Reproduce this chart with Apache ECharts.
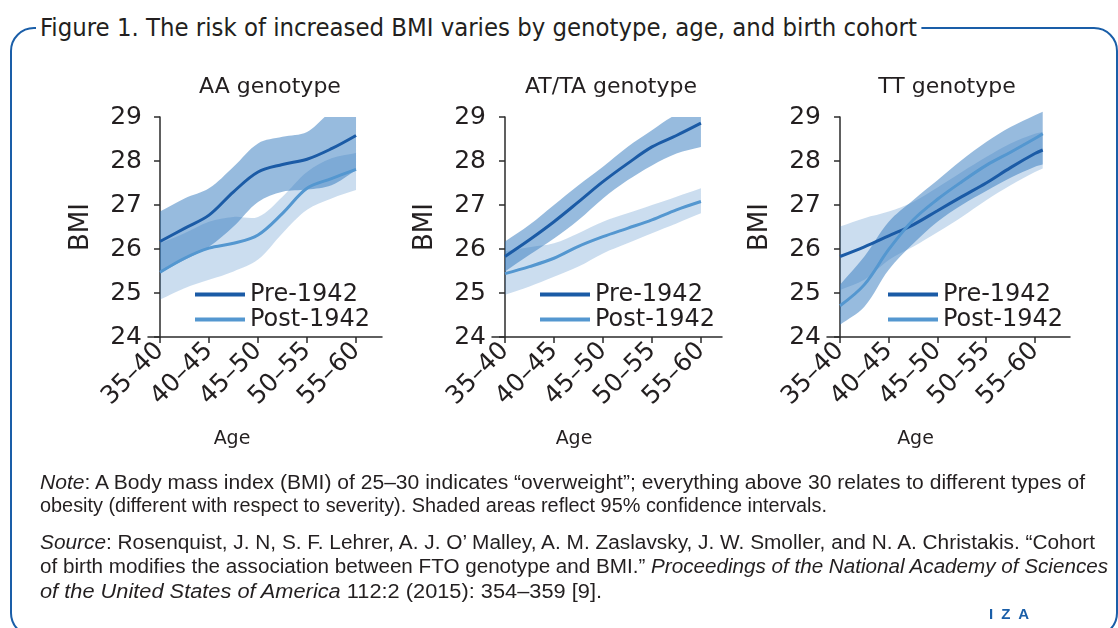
<!DOCTYPE html>
<html>
<head>
<meta charset="utf-8">
<script src="https://cdn.jsdelivr.net/npm/echarts@6/dist/echarts.min.js"></script>
<style>
  html, body { margin: 0; padding: 0; background: #fff; }
  #wrap { position: relative; width: 1118px; height: 628px; overflow: hidden; background: #fff; }
  #frame { position: absolute; left: 10px; top: 27px; width: 1108px; height: 610px; box-sizing: border-box;
           border: 2.5px solid #1a5ea8; border-radius: 24px; }
  #chart { position: absolute; left: 0; top: 0; width: 1118px; height: 628px; }
  .txt { position: absolute; white-space: nowrap; color: #231f20; transform-origin: 0 50%; }
  #title { left: 36px; top: 13px; height: 30px; line-height: 30px; padding: 0 4px; background: #fff;
           font-family: 'Liberation Sans Narrow', 'DejaVu Sans Condensed', 'Liberation Sans', sans-serif; font-size: 25px; }
  .note { left: 40px; font-family: 'Liberation Sans', Arial, sans-serif; font-size: 20px; height: 24px; line-height: 24px; }
  #iza { position: absolute; left: 989px; top: 605px; font-family: 'Liberation Sans', Arial, sans-serif; font-weight: bold;
         font-size: 15px; color: #1a5ea8; letter-spacing: 8px; }
</style>
</head>
<body>
<div id="wrap">
  <div id="frame"></div>
  <div id="chart"></div>
  <div id="title" class="txt" data-w="885">Figure 1. The risk of increased BMI varies by genotype, age, and birth cohort</div>
  <div class="txt note" style="top:470px" data-w="1045"><i>Note</i>: A Body mass index (BMI) of 25–30 indicates “overweight”; everything above 30 relates to different types of</div>
  <div class="txt note" style="top:493px" data-w="787">obesity (different with respect to severity). Shaded areas reflect 95% confidence intervals.</div>
  <div class="txt note" style="top:530px" data-w="1055"><i>Source</i>: Rosenquist, J. N, S. F. Lehrer, A. J. O’ Malley, A. M. Zaslavsky, J. W. Smoller, and N. A. Christakis. “Cohort</div>
  <div class="txt note" style="top:554px" data-w="1068">of birth modifies the association between FTO genotype and BMI.” <i>Proceedings of the National Academy of Sciences</i></div>
  <div class="txt note" style="top:579px" data-w="562"><i>of the United States of America</i> 112:2 (2015): 354–359 [9].</div>
  <div id="iza">IZA</div>
</div>
<script>
// ---------- data ----------
const ageLabels = ['35–40', '40–45', '45–50', '50–55', '55–60'];
const panelTitles = ['AA genotype', 'AT/TA genotype', 'TT genotype'];
const cohortNames = ['Pre-1942', 'Post-1942'];
const xPos   = [0, 0.5, 1, 1.5, 2, 2.5, 3, 3.5, 4];
const xPosTT = [0, 0.5, 1, 1.5, 2, 2.5, 3, 3.5, 4, 4.16];

// AA genotype
const aaPre    = [26.17, 26.47, 26.77, 27.30, 27.75, 27.92, 28.04, 28.28, 28.58];
const aaPreLo  = [25.45, 25.75, 26.05, 26.51, 27.07, 27.30, 27.35, 27.45, 27.79];
const aaPreHi  = [26.85, 27.15, 27.38, 27.87, 28.40, 28.55, 28.66, 29.10, 29.15];
const aaPost   = [25.47, 25.79, 26.02, 26.13, 26.32, 26.81, 27.38, 27.60, 27.81];
const aaPostLo = [24.85, 25.11, 25.30, 25.49, 25.76, 26.36, 26.89, 27.15, 27.34];
const aaPostHi = [26.13, 26.36, 26.62, 26.73, 26.73, 27.19, 27.75, 28.06, 28.18];

// AT/TA genotype
const atPre    = [25.83, 26.21, 26.62, 27.07, 27.53, 27.94, 28.32, 28.58, 28.86];
const atPreLo  = [25.49, 25.87, 26.24, 26.66, 27.15, 27.56, 27.90, 28.17, 28.32];
const atPreHi  = [26.17, 26.55, 27.00, 27.45, 27.87, 28.32, 28.70, 29.05, 29.15];
const atPost   = [25.44, 25.60, 25.79, 26.06, 26.28, 26.47, 26.66, 26.89, 27.08];
const atPostLo = [24.96, 25.15, 25.37, 25.60, 25.90, 26.13, 26.36, 26.58, 26.81];
const atPostHi = [25.95, 26.04, 26.13, 26.36, 26.62, 26.81, 27.00, 27.19, 27.38];

// TT genotype
const ttPre    = [25.83, 26.05, 26.30, 26.55, 26.87, 27.19, 27.50, 27.85, 28.17, 28.25];
const ttPreLo  = [25.07, 25.30, 25.75, 26.05, 26.38, 26.73, 27.11, 27.45, 27.75, 27.83];
const ttPreHi  = [26.51, 26.70, 26.85, 27.07, 27.40, 27.75, 28.09, 28.40, 28.62, 28.66];
const ttPost   = [24.71, 25.19, 25.99, 26.66, 27.13, 27.53, 27.90, 28.20, 28.51, 28.62];
const ttPostLo = [24.28, 24.69, 25.53, 26.12, 26.62, 27.00, 27.32, 27.62, 27.87, 27.92];
const ttPostHi = [25.19, 25.83, 26.62, 27.11, 27.56, 28.02, 28.43, 28.77, 29.04, 29.12];

// ---------- styling ----------
const FONT = 'DejaVu Sans';
const TXT = '#231f20';
const AXIS = '#2b2b2b';
const PRE_COLOR = '#1b5ba6';
const POST_COLOR = '#5497d0';
const BAND_MED = 'rgba(47,120,190,0.5)';
const BAND_LIGHT = 'rgba(47,120,190,0.25)';
const SMOOTH = 0.35;

const panels = [
  { x: xPos, pre: aaPre, preLo: aaPreLo, preHi: aaPreHi, post: aaPost, postLo: aaPostLo, postHi: aaPostHi,
    grid: { left: 148, top: 117, width: 234, height: 220 }, xmin: -0.245, xmax: 4.53,
    preBand: BAND_MED, postBand: BAND_LIGHT, legendLeft: 190, titleX: 265, clip: true },
  { x: xPos, pre: atPre, preLo: atPreLo, preHi: atPreHi, post: atPost, postLo: atPostLo, postHi: atPostHi,
    grid: { left: 492, top: 117, width: 230, height: 220 }, xmin: -0.265, xmax: 4.43,
    preBand: BAND_MED, postBand: BAND_LIGHT, legendLeft: 535, titleX: 606, clip: true },
  { x: xPosTT, pre: ttPre, preLo: ttPreLo, preHi: ttPreHi, post: ttPost, postLo: ttPostLo, postHi: ttPostHi,
    grid: { left: 827, top: 117, width: 243, height: 220 }, xmin: -0.267, xmax: 4.72,
    preBand: BAND_LIGHT, postBand: BAND_MED, legendLeft: 883, titleX: 942, clip: false }
];

const pairs = (xs, ys) => xs.map((x, i) => [x, ys[i]]);

// smooth path segment through pixel points (same style of smoothing as ECharts lines)
function smoothSegs(pts, move) {
  let d = '';
  const n = pts.length;
  const cps = pts.map((p, i) => {
    const prev = pts[Math.max(i - 1, 0)], next = pts[Math.min(i + 1, n - 1)];
    const vx = next[0] - prev[0], vy = next[1] - prev[1];
    const l0 = Math.hypot(p[0] - prev[0], p[1] - prev[1]);
    const l1 = Math.hypot(next[0] - p[0], next[1] - p[1]);
    const sum = l0 + l1 || 1;
    const r = l1 / sum;
    return {
      in: [p[0] - vx * SMOOTH * (1 - r), p[1] - vy * SMOOTH * (1 - r)],
      out: [p[0] + vx * SMOOTH * r, p[1] + vy * SMOOTH * r]
    };
  });
  d += (move ? 'M' : 'L') + pts[0][0] + ' ' + pts[0][1];
  for (let i = 0; i < n - 1; i++) {
    const a = cps[i].out, b = cps[i + 1].in, p = pts[i + 1];
    d += 'C' + a[0] + ' ' + a[1] + ' ' + b[0] + ' ' + b[1] + ' ' + p[0] + ' ' + p[1];
  }
  return d;
}

function bandSeries(k, xs, lo, hi, color, clip) {
  return {
    type: 'custom', xAxisIndex: k, yAxisIndex: k, silent: true, clip: clip, z: 1,
    data: [[xs[0], lo[0]]],
    renderItem: function (params, api) {
      const loPts = xs.map((x, i) => api.coord([x, lo[i]]));
      const hiPts = xs.map((x, i) => api.coord([x, hi[i]])).reverse();
      const d = smoothSegs(loPts, true) + smoothSegs(hiPts, false) + 'Z';
      return { type: 'path', shape: { pathData: d, layout: 'cover' }, style: { fill: color, stroke: null } };
    }
  };
}

const grids = [], xAxes = [], yAxes = [], series = [], titles = [], legends = [];
panels.forEach((p, k) => {
  grids.push(p.grid);
  titles.push({ text: panelTitles[k], left: p.titleX, top: 71, textAlign: 'center',
    textStyle: { fontFamily: FONT, fontSize: 22, fontWeight: 'normal', color: TXT } });
  xAxes.push({
    type: 'value', gridIndex: k, min: p.xmin, max: p.xmax,
    axisLine: { show: true, onZero: false, lineStyle: { color: AXIS, width: 1.5 } },
    axisTick: { show: true, customValues: [0, 1, 2, 3, 4], length: 6, lineStyle: { color: AXIS, width: 1.5 } },
    axisLabel: { customValues: [0, 1, 2, 3, 4], rotate: 45, margin: 10, fontFamily: FONT, fontSize: 25, color: TXT,
      formatter: v => ageLabels[Math.round(v)] },
    splitLine: { show: false },
    name: 'Age', nameLocation: 'middle', nameGap: 93,
    nameTextStyle: { fontFamily: FONT, fontSize: 19, color: TXT, padding: [0, 66, 0, 0] }
  });
  yAxes.push({
    type: 'value', gridIndex: k, min: 24, max: 29, interval: 1,
    axisLine: { show: true, lineStyle: { color: AXIS, width: 1.5 } },
    axisTick: { show: true, length: 6, lineStyle: { color: AXIS, width: 1.5 } },
    axisLabel: { margin: 6, fontFamily: FONT, fontSize: 25, color: TXT },
    splitLine: { show: false },
    name: 'BMI', nameLocation: 'middle', nameGap: 54, nameRotate: 90,
    nameTextStyle: { fontFamily: FONT, fontSize: 26, color: TXT }
  });
  series.push(bandSeries(k, p.x, p.preLo, p.preHi, p.preBand, p.clip));
  series.push(bandSeries(k, p.x, p.postLo, p.postHi, p.postBand, p.clip));
  const common = { type: 'line', xAxisIndex: k, yAxisIndex: k, symbol: 'none', smooth: SMOOTH, silent: true, z: 3 };
  series.push(Object.assign({}, common, { name: cohortNames[0], data: pairs(p.x, p.pre),
    itemStyle: { color: PRE_COLOR }, lineStyle: { color: PRE_COLOR, width: 3 } }));
  series.push(Object.assign({}, common, { name: cohortNames[1], data: pairs(p.x, p.post),
    itemStyle: { color: POST_COLOR }, lineStyle: { color: POST_COLOR, width: 3 } }));
  legends.push({
    data: cohortNames, orient: 'vertical', left: p.legendLeft, top: 277, selectedMode: false,
    icon: 'rect', itemWidth: 50, itemHeight: 4, itemGap: 0, itemTextGap: 8,
    textStyle: { fontFamily: FONT, fontSize: 24, color: TXT, lineHeight: 25 }
  });
});

const chart = echarts.init(document.getElementById('chart'), null, { renderer: 'canvas' });
chart.setOption({
  animation: false,
  backgroundColor: 'transparent',
  title: titles,
  legend: legends,
  grid: grids,
  xAxis: xAxes,
  yAxis: yAxes,
  series: series
});

// fit text lines to their measured widths in the reference
document.querySelectorAll('[data-w]').forEach(el => {
  const target = +el.getAttribute('data-w');
  const w = el.getBoundingClientRect().width;
  if (w > 0) el.style.transform = 'scaleX(' + (target / w) + ')';
});
</script>
</body>
</html>
